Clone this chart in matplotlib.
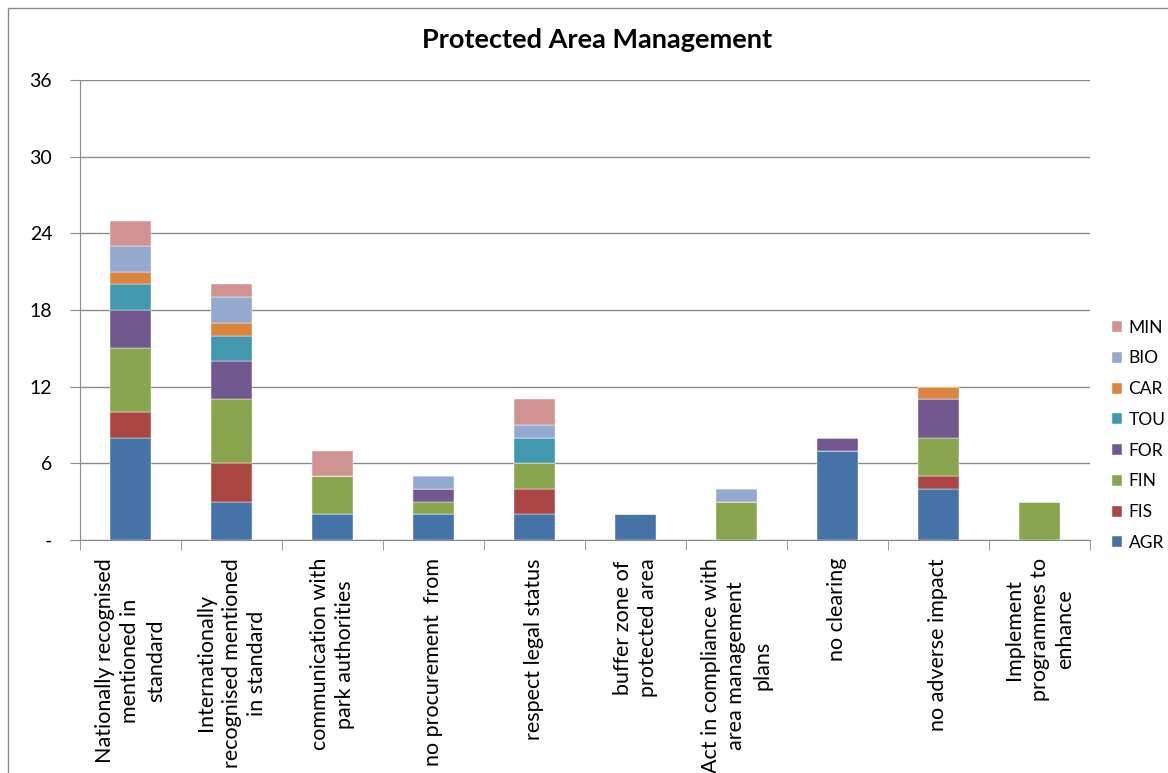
from matplotlib import pyplot as plt
from matplotlib import patches
import numpy as np

plt.rcParams['font.family'] = ['Lato', 'DejaVu Sans']

categories = ['Nationally recognised\nmentioned in\nstandard',
              'Internationally\nrecognised mentioned\nin standard',
              'communication with\npark authorities',
              'no procurement  from',
              'respect legal status',
              'buffer zone of\nprotected area',
              'Act in compliance with\narea management\nplans',
              'no clearing',
              'no adverse impact',
              'Implement\nprogrammes to\nenhance']

series = ['AGR', 'FIS', 'FIN', 'FOR', 'TOU', 'CAR', 'BIO', 'MIN']
AGR = [8, 3, 2, 2, 2, 2, 0, 7, 4, 0]
FIS = [2, 3, 0, 0, 2, 0, 0, 0, 1, 0]
FIN = [5, 5, 3, 1, 2, 0, 3, 0, 3, 3]
FOR = [3, 3, 0, 1, 0, 0, 0, 1, 3, 0]
TOU = [2, 2, 0, 0, 2, 0, 0, 0, 0, 0]
CAR = [1, 1, 0, 0, 0, 0, 0, 0, 1, 0]
BIO = [2, 2, 0, 1, 1, 0, 1, 0, 0, 0]
MIN = [2, 1, 2, 0, 2, 0, 0, 0, 0, 0]
values = [AGR, FIS, FIN, FOR, TOU, CAR, BIO, MIN]
colors = ['#4572A7', '#AA4643', '#89A54E', '#71588F', '#4198AF', '#DB843D', '#93A9CF', '#D19392']

yticks = [0, 6, 12, 18, 24, 30, 36]
yticklabels = ['-', '6', '12', '18', '24', '30', '36']

fig = plt.figure(figsize=(11.68, 7.73), dpi=100)
ax = fig.add_axes([80/1168, 1-540/773, 1010/1168, 460/773])

grid_c = '#8a8a8a'
x = np.arange(len(categories))
bottom = np.zeros(len(categories))
handles = []
for name, vals, c in zip(series, values, colors):
    vals = np.array(vals, float)
    h = ax.bar(x, vals, bottom=bottom, width=0.41, color=c, label=name,
               edgecolor='white', linewidth=0.3, zorder=3)
    handles.append(h)
    bottom += vals

ax.set_xlim(-0.5, len(categories)-0.5)
ax.set_ylim(0, 36)
ax.set_yticks(yticks)
ax.set_yticklabels(yticklabels, fontsize=14)
ax.yaxis.grid(True, color=grid_c, linewidth=1, zorder=0)
ax.set_axisbelow(True)

ax.set_xticks(x)
ax.set_xticklabels(categories, rotation=90, fontsize=15.5, va='top', ha='center',
                   multialignment='center', linespacing=1.35)
ax.tick_params(axis='x', which='major', length=0, pad=13)
ax.set_xticks(np.arange(-0.5, len(categories), 1), minor=True)
ax.tick_params(axis='x', which='minor', length=7, color=grid_c, direction='out')
ax.tick_params(axis='y', length=7, color=grid_c, direction='out', pad=13)

for s in ['top', 'right']:
    ax.spines[s].set_visible(False)
for s in ['left', 'bottom']:
    ax.spines[s].set_color(grid_c)

fig.text(597/1168, 1-40/773, 'Protected Area Management', fontsize=19.5, fontweight='bold',
         ha='center', va='center')

fig.legend(handles[::-1], series[::-1], loc='lower left', bbox_to_anchor=(1112/1168, 1-551/773),
           frameon=False, fontsize=12.5, handlelength=0.6, handleheight=0.6,
           handletextpad=0.35, labelspacing=0.85, borderpad=0, borderaxespad=0)

fig.patches.append(patches.Rectangle((8/1168, -0.1), 1.2, 1.1-8/773, transform=fig.transFigure,
                                     fill=False, edgecolor=grid_c, linewidth=1))

fig.savefig('out.png', dpi=100)
